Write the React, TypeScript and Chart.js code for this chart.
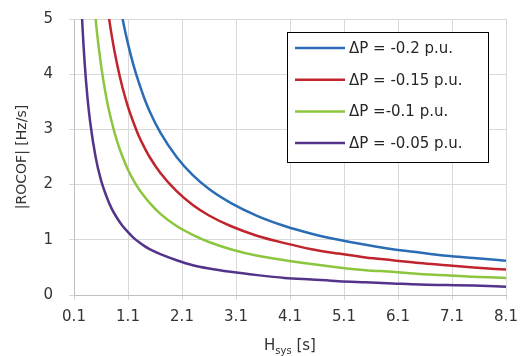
import { useEffect, useRef } from "react";
import { Chart, registerables } from "chart.js";
Chart.register(...registerables);

const hValues = [0.2, 0.25, 0.3, 0.35, 0.4, 0.5, 0.6, 0.7, 0.8, 0.9, 1.0, 1.1, 1.2, 1.3, 1.4, 1.5, 1.7, 2.0, 2.3, 2.6, 3.0, 3.5, 4.0, 4.5, 5.0, 5.5, 6.0, 6.5, 7.0, 7.5, 8.1];
const rocof02 = [25, 20, 16.7, 14.3, 12.5, 10, 8.33, 7.14, 6.25, 5.56, 5.0, 4.55, 4.17, 3.85, 3.57, 3.33, 2.94, 2.5, 2.17, 1.92, 1.67, 1.43, 1.25, 1.11, 1.0, 0.91, 0.83, 0.77, 0.71, 0.67, 0.62];
const rocof015 = [18.75, 15, 12.5, 10.7, 9.38, 7.5, 6.25, 5.36, 4.69, 4.17, 3.75, 3.41, 3.13, 2.88, 2.68, 2.5, 2.21, 1.88, 1.63, 1.44, 1.25, 1.07, 0.94, 0.83, 0.75, 0.68, 0.63, 0.58, 0.54, 0.5, 0.46];
const rocof01 = [12.5, 10, 8.33, 7.14, 6.25, 5.0, 4.17, 3.57, 3.13, 2.78, 2.5, 2.27, 2.08, 1.92, 1.79, 1.67, 1.47, 1.25, 1.09, 0.96, 0.83, 0.71, 0.63, 0.56, 0.5, 0.45, 0.42, 0.38, 0.36, 0.33, 0.31];
const rocof005 = [6.25, 5.0, 4.17, 3.57, 3.13, 2.5, 2.08, 1.79, 1.56, 1.39, 1.25, 1.14, 1.04, 0.96, 0.89, 0.83, 0.74, 0.63, 0.54, 0.48, 0.42, 0.36, 0.31, 0.28, 0.25, 0.23, 0.21, 0.19, 0.18, 0.17, 0.15];
const seriesLabels = ["ΔP = -0.2 p.u.", "ΔP = -0.15 p.u.", "ΔP =-0.1 p.u.", "ΔP = -0.05 p.u."];
const seriesColors = ["#2a6db5", "#c0242c", "#8cc63f", "#53348a"];
const xTicks = [0.1, 1.1, 2.1, 3.1, 4.1, 5.1, 6.1, 7.1, 8.1];
const yTickStep = 1;
const yMin = 0;
const yMax = 5;

const FONT = "'DejaVu Sans', sans-serif";

const overlayPlugin = {
  id: "overlay",
  afterDraw(chart: any) {
    const ctx = chart.ctx;
    const area = chart.chartArea;
    ctx.save();
    // legend box
    const bx = 287, by = 32, bw = 201, bh = 130;
    ctx.fillStyle = "#ffffff";
    ctx.fillRect(bx, by, bw, bh);
    ctx.strokeStyle = "#000000";
    ctx.lineWidth = 1;
    ctx.strokeRect(bx + 0.5, by + 0.5, bw, bh);
    chart.data.datasets.forEach((ds: any, i: number) => {
      const y = 48 + i * 31.7;
      ctx.strokeStyle = ds.borderColor;
      ctx.lineWidth = 2.5;
      ctx.beginPath();
      ctx.moveTo(295, y);
      ctx.lineTo(345, y);
      ctx.stroke();
      ctx.fillStyle = "#262626";
      ctx.font = `15px ${FONT}`;
      ctx.textBaseline = "middle";
      ctx.textAlign = "left";
      ctx.fillText(ds.label, 349, y + 1);
    });
    // y title
    ctx.fillStyle = "#333333";
    ctx.save();
    ctx.translate(22, (area.top + area.bottom) / 2);
    ctx.rotate(-Math.PI / 2);
    ctx.font = `14px ${FONT}`;
    ctx.textAlign = "center";
    ctx.textBaseline = "middle";
    ctx.fillText("|ROCOF| [Hz/s]", 0, 0);
    ctx.restore();
    // x title with subscript
    const mainFont = `15px ${FONT}`;
    const subFont = `10px ${FONT}`;
    ctx.font = mainFont;
    const wH = ctx.measureText("H").width;
    const wS = ctx.measureText(" [s]").width;
    ctx.font = subFont;
    const wSub = ctx.measureText("sys").width;
    const total = wH + wSub + wS;
    let x = (area.left + area.right) / 2 - total / 2;
    const base = 350;
    ctx.textAlign = "left";
    ctx.textBaseline = "alphabetic";
    ctx.font = mainFont;
    ctx.fillText("H", x, base);
    x += wH;
    ctx.font = subFont;
    ctx.fillText("sys", x, base + 4);
    x += wSub;
    ctx.font = mainFont;
    ctx.fillText(" [s]", x, base);
    ctx.restore();
  },
};

export default function App() {
  const ref = useRef<HTMLCanvasElement>(null);
  useEffect(() => {
    document.body.style.margin = "0";
    const datasets = [rocof02, rocof015, rocof01, rocof005].map((vals, i) => ({
      label: seriesLabels[i],
      data: hValues.map((h, j) => ({ x: h, y: vals[j] })),
      borderColor: seriesColors[i],
      backgroundColor: seriesColors[i],
      borderWidth: 2.5,
      pointRadius: 0,
      cubicInterpolationMode: "monotone" as const,
      fill: false,
    }));
    const chart = new Chart(ref.current!, {
      type: "line",
      data: { datasets },
      plugins: [overlayPlugin],
      options: {
        animation: false,
        responsive: false,
        devicePixelRatio: 1,
        layout: { padding: { top: 19, right: 16, left: 0, bottom: 0 } },
        plugins: { legend: { display: false }, tooltip: { enabled: false } },
        scales: {
          x: {
            type: "linear",
            min: xTicks[0],
            max: xTicks[xTicks.length - 1],
            afterBuildTicks: (axis: any) => {
              axis.ticks = xTicks.map((v) => ({ value: v }));
            },
            afterFit: (axis: any) => {
              axis.height = 61;
              axis.paddingLeft = 0;
              axis.paddingRight = 0;
            },
            grid: { color: "#d9d9d9", tickLength: 5, lineWidth: 1 },
            border: { color: "#bfbfbf" },
            ticks: {
              color: "#333333",
              font: { family: FONT, size: 15 },
              padding: 8,
              maxRotation: 0,
              autoSkip: false,
              callback: (v: any) => Number(v).toFixed(1),
            },
          },
          y: {
            type: "linear",
            min: yMin,
            max: yMax,
            afterFit: (axis: any) => {
              axis.width = 74;
              axis.paddingTop = 0;
              axis.paddingBottom = 0;
            },
            grid: { color: "#d9d9d9", tickLength: 5, lineWidth: 1 },
            border: { color: "#bfbfbf" },
            ticks: {
              stepSize: yTickStep,
              color: "#333333",
              font: { family: FONT, size: 15 },
              padding: 16,
            },
          },
        },
      },
    });
    return () => chart.destroy();
  }, []);
  return (
    <div style={{ width: 522, height: 356, background: "#fff" }}>
      <canvas ref={ref} width={522} height={356} style={{ display: "block" }} />
    </div>
  );
}
